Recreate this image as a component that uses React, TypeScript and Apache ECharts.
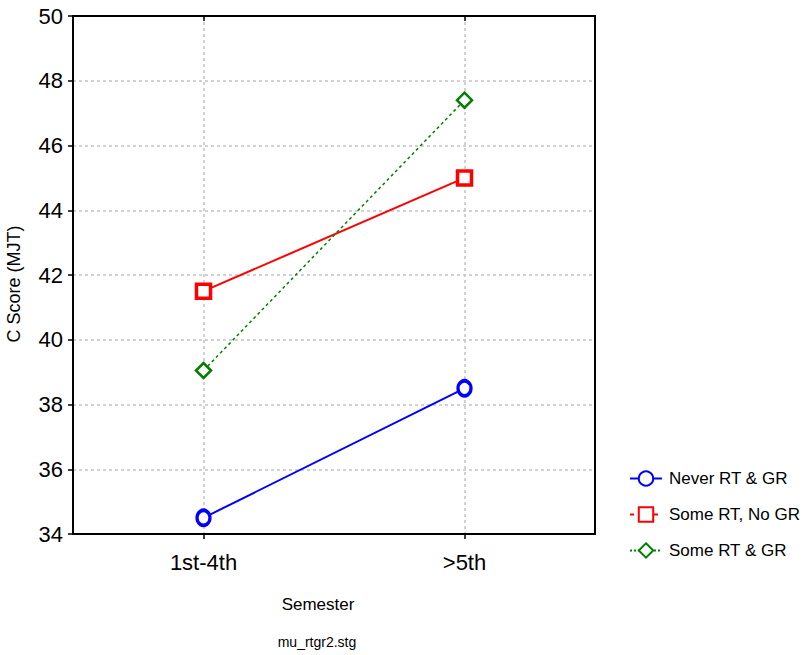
import React, { useEffect, useRef } from "react";
import * as echarts from "echarts";

const categories = ["1st-4th", ">5th"];
const neverRTGR = [34.5, 38.5];
const someRTNoGR = [41.5, 45.0];
const someRTGR = [39.05, 47.4];
const seriesNames = ["Never RT & GR", "Some RT, No GR", "Some RT & GR"];
const yAxisTitle = "C Score (MJT)";
const xAxisTitle = "Semester";
const footnote = "mu_rtgr2.stg";

const FONT = "'Liberation Sans', Arial, sans-serif";

export default function App() {
  const ref = useRef<HTMLDivElement>(null);
  useEffect(() => {
    document.body.style.margin = "0";
    if (!ref.current) return;
    const chart = echarts.init(ref.current, null, { renderer: "svg" });
    const grid = { left: 73, top: 16, width: 522, height: 518 };
    const gridLine = { color: "#c4c4c4", type: [3, 3], width: 1.5 };
    const frame = { show: true, lineStyle: { color: "#000", width: 2 } };
    chart.setOption({
      animation: false,
      backgroundColor: "#ffffff",
      grid: { ...grid, show: true, borderColor: "#000", borderWidth: 2 },
      textStyle: { fontFamily: FONT },
      xAxis: [
        {
          type: "category",
          data: categories,
          boundaryGap: true,
          axisLine: frame,
          axisTick: { show: true, alignWithLabel: true, length: 5, lineStyle: { color: "#000", width: 1.5 } },
          axisLabel: { fontSize: 22, color: "#000", margin: 17, fontFamily: FONT },
          splitLine: { show: true, alignWithLabel: true, lineStyle: gridLine },
        },
        {
          type: "category",
          data: categories,
          position: "top",
          boundaryGap: true,
          axisLine: frame,
          axisTick: { show: true, inside: true, alignWithLabel: true, length: 5, lineStyle: { color: "#000", width: 1.5 } },
          axisLabel: { show: false },
          splitLine: { show: false },
        },
      ],
      yAxis: [
        {
          type: "value",
          min: 34,
          max: 50,
          interval: 2,
          axisLine: frame,
          axisTick: { show: true, length: 5, lineStyle: { color: "#000", width: 1.5 } },
          axisLabel: { fontSize: 22, color: "#000", margin: 10, fontFamily: FONT },
          splitLine: { show: true, lineStyle: gridLine },
        },
        {
          type: "value",
          min: 34,
          max: 50,
          interval: 2,
          position: "right",
          axisLine: frame,
          axisTick: { show: false },
          axisLabel: { show: false },
          splitLine: { show: false },
        },
      ],
      legend: {
        orient: "vertical",
        left: 624,
        top: 465,
        itemWidth: 32,
        itemHeight: 18,
        itemGap: 19,
        textStyle: { fontSize: 17, color: "#000", fontFamily: FONT, padding: [0, 0, 0, 2] },
        data: [
          { name: seriesNames[0] },
          { name: seriesNames[1], lineStyle: { type: [4, 4] } },
          { name: seriesNames[2], lineStyle: { type: [2, 2] } },
        ],
      },
      graphic: [
        {
          type: "text",
          x: 14,
          y: 284,
          rotation: Math.PI / 2,
          style: { text: yAxisTitle, fontSize: 18, fill: "#000", fontFamily: FONT, align: "center", verticalAlign: "middle" },
        },
        {
          type: "text",
          x: 318,
          y: 604,
          style: { text: xAxisTitle, fontSize: 17, fill: "#000", fontFamily: FONT, align: "center", verticalAlign: "middle" },
        },
        {
          type: "text",
          x: 317,
          y: 642,
          style: { text: footnote, fontSize: 14, fill: "#000", fontFamily: FONT, align: "center", verticalAlign: "middle" },
        },
      ],
      series: [
        {
          name: seriesNames[0],
          type: "line",
          data: neverRTGR,
          symbol: "circle",
          symbolSize: [13, 15],
          lineStyle: { color: "#0000ff", width: 2 },
          itemStyle: { color: "#ffffff", borderColor: "#0000ff", borderWidth: 3.5 },
          z: 3,
        },
        {
          name: seriesNames[1],
          type: "line",
          data: someRTNoGR,
          symbol: "rect",
          symbolSize: 14,
          lineStyle: { color: "#ff0000", width: 2 },
          itemStyle: { color: "#ffffff", borderColor: "#ff0000", borderWidth: 3.5 },
          z: 3,
        },
        {
          name: seriesNames[2],
          type: "line",
          data: someRTGR,
          symbol: "diamond",
          symbolSize: 15,
          lineStyle: { color: "#008000", width: 1.5, type: [3, 3] },
          itemStyle: { color: "#ffffff", borderColor: "#008000", borderWidth: 2.5 },
          z: 3,
        },
      ],
    });
    return () => chart.dispose();
  }, []);
  return <div ref={ref} style={{ width: 808, height: 655 }} />;
}
